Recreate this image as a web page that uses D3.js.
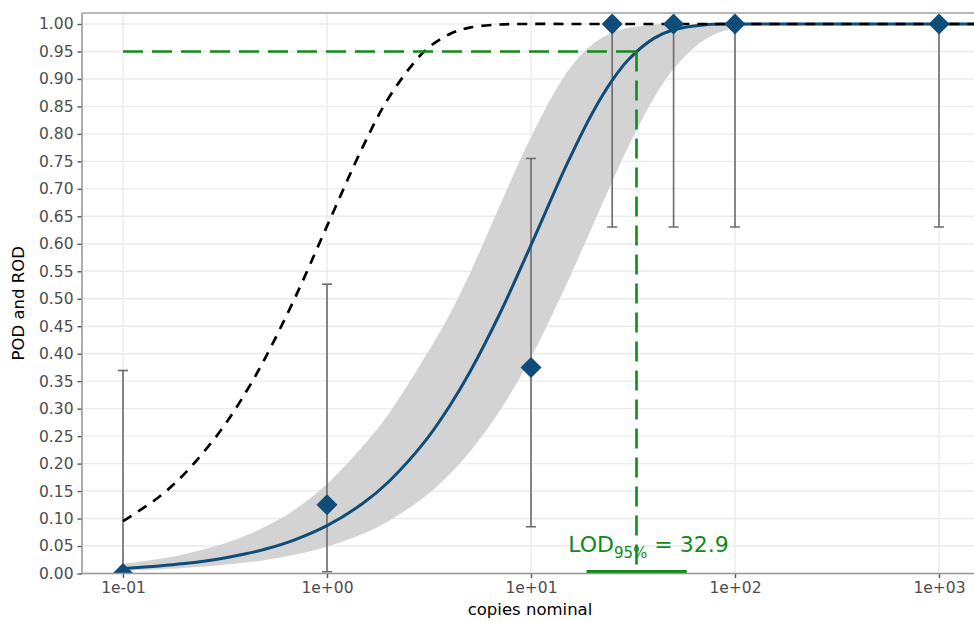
<!DOCTYPE html>
<html>
<head>
<meta charset="utf-8">
<script src="https://cdn.jsdelivr.net/npm/d3@7"></script>
<style>
  html, body { margin: 0; padding: 0; background: #fff; }
  svg { display: block; font-family: "DejaVu Sans", sans-serif; }
</style>
</head>
<body>
<svg id="chart" width="974" height="621"></svg>
<script>
// Concentration grid (copies) for the fitted curves
const conc = [0.1, 0.15, 0.2, 0.3, 0.4, 0.5, 0.7, 1, 1.5, 2, 3, 4, 5, 7, 10, 15, 20, 25, 30, 40, 50, 70, 100, 150, 200, 500, 1000, 1500];
// Fitted POD curve
const podFit = [0.0091, 0.0136, 0.0181, 0.0270, 0.0358, 0.0445, 0.0618, 0.0870, 0.1277, 0.1665, 0.2390, 0.3053, 0.3657, 0.4713, 0.5977, 0.7449, 0.8382, 0.8973, 0.9349, 0.9738, 0.9895, 0.9983, 0.9999, 1, 1, 1, 1, 1];
// Confidence band of the fitted curve
const podUpper = [0.0178, 0.0265, 0.0352, 0.0522, 0.0690, 0.0855, 0.1170, 0.1630, 0.2320, 0.2900, 0.3920, 0.4720, 0.5450, 0.6680, 0.7940, 0.9120, 0.9630, 0.9840, 0.9930, 0.9987, 0.9998, 1, 1, 1, 1, 1, 1, 1];
const podLower = [0.0050, 0.0075, 0.0100, 0.0149, 0.0198, 0.0247, 0.0344, 0.0488, 0.0723, 0.0952, 0.1390, 0.1810, 0.2210, 0.2950, 0.3930, 0.5280, 0.6320, 0.7130, 0.7770, 0.8650, 0.9180, 0.9700, 0.9930, 0.9995, 1, 1, 1, 1];
// Theoretical POD of an ideal method
const podIdeal = [0.0952, 0.1393, 0.1813, 0.2592, 0.3297, 0.3935, 0.5034, 0.6321, 0.7769, 0.8647, 0.9502, 0.9817, 0.9933, 0.9991, 1, 1, 1, 1, 1, 1, 1, 1, 1, 1, 1, 1, 1, 1];

// Observed rates of detection with their intervals
const levels = [0.1, 1, 10, 25, 50, 100, 1000];
const rod = [0, 0.125, 0.375, 1, 1, 1, 1];
const rodLow = [0, 0.0032, 0.0852, 0.6306, 0.6306, 0.6306, 0.6306];
const rodHigh = [0.3694, 0.5265, 0.7551, 1, 1, 1, 1];

// Limit of detection and its interval
const lod95 = 32.9;
const lodLow = 18.7;
const lodHigh = 58.0;
const lodLevel = 0.95;

// Axis ticks
const xTicks = [0.1, 1, 10, 100, 1000];
const xTickLabels = ["1e-01", "1e+00", "1e+01", "1e+02", "1e+03"];
const yTicks = d3.range(0, 21).map(i => i * 0.05);

const svg = d3.select("#chart");
const panel = { left: 82, right: 974, top: 13, bottom: 573.5 };

const x = d3.scaleLog().domain([0.1, 1000]).range([123, 939]);
const y = d3.scaleLinear().domain([0, 1.02]).range([panel.bottom, panel.top]);
const smooth = d3.curveCatmullRom.alpha(0.5);

svg.append("defs").append("clipPath").attr("id", "panelClip")
  .append("rect")
  .attr("x", panel.left).attr("y", panel.top)
  .attr("width", panel.right - panel.left).attr("height", panel.bottom - panel.top);

// Grid
const grid = svg.append("g");
grid.selectAll("line.h").data(yTicks).join("line")
  .attr("x1", panel.left).attr("x2", panel.right)
  .attr("y1", d => y(d)).attr("y2", d => y(d))
  .attr("stroke", "#ebebeb").attr("stroke-width", 1.4);
grid.selectAll("line.v").data(xTicks).join("line")
  .attr("x1", d => x(d)).attr("x2", d => x(d))
  .attr("y1", panel.top).attr("y2", panel.bottom)
  .attr("stroke", "#ebebeb").attr("stroke-width", 1.4);

const plot = svg.append("g").attr("clip-path", "url(#panelClip)");

const curveData = conc.map((c, i) => ({ c, fit: podFit[i], lo: podLower[i], hi: podUpper[i], ideal: podIdeal[i] }));

// Confidence band
plot.append("path")
  .datum(curveData)
  .attr("fill", "#d3d3d3")
  .attr("d", d3.area().x(d => x(d.c)).y0(d => y(d.lo)).y1(d => y(d.hi)).curve(smooth));

// Error bars
const bars = levels.map((c, i) => ({ c, v: rod[i], lo: rodLow[i], hi: rodHigh[i] }));
const eb = plot.append("g").attr("stroke", "#6b6b6b").attr("stroke-width", 1.6);
eb.selectAll("line.stem").data(bars).join("line")
  .attr("x1", d => x(d.c)).attr("x2", d => x(d.c))
  .attr("y1", d => y(d.lo)).attr("y2", d => y(d.hi));
eb.selectAll("line.capTop").data(bars).join("line")
  .attr("x1", d => x(d.c) - 5).attr("x2", d => x(d.c) + 5)
  .attr("y1", d => y(d.hi)).attr("y2", d => y(d.hi));
eb.selectAll("line.capBot").data(bars).join("line")
  .attr("x1", d => x(d.c) - 5).attr("x2", d => x(d.c) + 5)
  .attr("y1", d => y(d.lo)).attr("y2", d => y(d.lo));

// Fitted POD curve
plot.append("path")
  .datum(curveData)
  .attr("fill", "none").attr("stroke", "#0f4d78").attr("stroke-width", 3)
  .attr("d", d3.line().x(d => x(d.c)).y(d => y(d.fit)).curve(smooth));

// Ideal POD curve
plot.append("path")
  .datum(curveData)
  .attr("fill", "none").attr("stroke", "#000").attr("stroke-width", 2.7)
  .attr("stroke-dasharray", "10,8")
  .attr("d", d3.line().x(d => x(d.c)).y(d => y(d.ideal)).curve(smooth));

// LOD guide lines
const green = "#13891a";
plot.append("line")
  .attr("x1", x(levels[0])).attr("x2", x(lod95))
  .attr("y1", y(lodLevel)).attr("y2", y(lodLevel))
  .attr("stroke", green).attr("stroke-width", 2.6).attr("stroke-dasharray", "20,9");
plot.append("line")
  .attr("x1", x(lod95)).attr("x2", x(lod95))
  .attr("y1", y(lodLevel)).attr("y2", y(0))
  .attr("stroke", green).attr("stroke-width", 2.6).attr("stroke-dasharray", "20,9");
plot.append("line")
  .attr("x1", x(lodLow)).attr("x2", x(lodHigh))
  .attr("y1", y(0)).attr("y2", y(0))
  .attr("stroke", green).attr("stroke-width", 7);

// Observed points
plot.selectAll("path.pt").data(bars).join("path")
  .attr("transform", d => `translate(${x(d.c)},${y(d.v)})`)
  .attr("d", "M0,-10.5L10.5,0L0,10.5L-10.5,0Z")
  .attr("fill", "#0f4d78");

// LOD label
const lbl = svg.append("text")
  .attr("x", x(lod95) + 12).attr("y", 552)
  .attr("text-anchor", "middle")
  .attr("fill", green).attr("font-size", 22);
lbl.append("tspan").text("LOD");
lbl.append("tspan").attr("font-size", 15).attr("dy", 6).text("95%");
lbl.append("tspan").attr("dy", -6).text(" = " + lod95.toFixed(1));

// Panel border (top) and axis lines
svg.append("line")
  .attr("x1", panel.left).attr("x2", panel.right)
  .attr("y1", panel.top).attr("y2", panel.top)
  .attr("stroke", "#a0a0a0").attr("stroke-width", 1.6);

const xAxis = svg.append("g").attr("transform", `translate(0,${panel.bottom})`)
  .call(d3.axisBottom(x).tickValues(xTicks).tickFormat((d, i) => xTickLabels[i]).tickSize(4.5).tickPadding(4));
const yAxis = svg.append("g").attr("transform", `translate(${panel.left},0)`)
  .call(d3.axisLeft(y).tickValues(yTicks).tickFormat(d3.format(".2f")).tickSize(4.5).tickPadding(4));

[xAxis, yAxis].forEach(a => {
  a.select(".domain").remove();
  a.selectAll(".tick line").attr("stroke", "#555").attr("stroke-width", 1.4);
  a.selectAll(".tick text").attr("fill", "#4d4d4d").attr("font-size", 15.5).attr("font-family", "DejaVu Sans, sans-serif");
});
svg.append("line")
  .attr("x1", panel.left).attr("x2", panel.left)
  .attr("y1", panel.top).attr("y2", panel.bottom)
  .attr("stroke", "#999").attr("stroke-width", 1.6);
svg.append("line")
  .attr("x1", panel.left).attr("x2", panel.right)
  .attr("y1", panel.bottom).attr("y2", panel.bottom)
  .attr("stroke", "#999").attr("stroke-width", 1.6);

// Axis titles
svg.append("text")
  .attr("x", 530).attr("y", 615)
  .attr("text-anchor", "middle").attr("font-size", 16.5).attr("fill", "#000")
  .text("copies nominal");
svg.append("text")
  .attr("transform", `translate(24,${(panel.top + panel.bottom) / 2 + 10}) rotate(-90)`)
  .attr("text-anchor", "middle").attr("font-size", 16.5).attr("fill", "#000")
  .text("POD and ROD");
</script>
</body>
</html>
